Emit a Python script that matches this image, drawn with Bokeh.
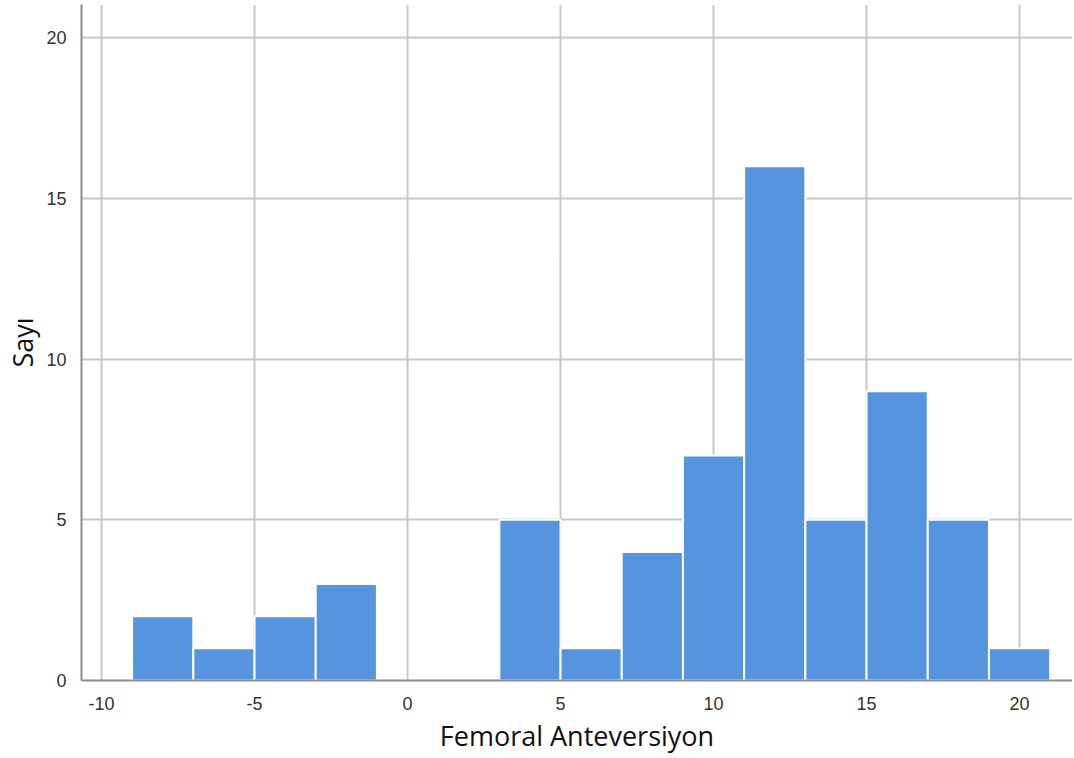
from bokeh.plotting import figure
from bokeh.embed import file_html
from bokeh.resources import INLINE
from bokeh.models import Range1d, FixedTicker

# Histogram data: bin edges (width 2) and counts
bin_edges = [-9, -7, -5, -3, -1, 1, 3, 5, 7, 9, 11, 13, 15, 17, 19, 21]
counts = [2, 1, 2, 3, 0, 0, 5, 1, 4, 7, 16, 5, 9, 5, 1]
x_ticks = [-10, -5, 0, 5, 10, 15, 20]
y_ticks = [0, 5, 10, 15, 20]
x_title = "Femoral Anteversiyon"
y_title = "Sayı"

p = figure(width=1072, height=756, output_backend="svg", toolbar_location=None,
           x_range=Range1d(-10.654, 21.73), y_range=Range1d(0, 21.03),
           min_border_left=81, min_border_right=0, min_border_top=4, min_border_bottom=76)
p.outline_line_color = None
p.background_fill_color = "white"

p.quad(left=bin_edges[:-1], right=bin_edges[1:], bottom=0, top=counts,
       fill_color="#5595e0", line_color="white", line_width=2)

for ax in (p.xaxis[0], p.yaxis[0]):
    ax.major_tick_line_color = None
    ax.minor_tick_line_color = None
    ax.axis_line_color = "#8c8c8c"
    ax.axis_line_width = 2
    ax.major_label_text_font = "Liberation Sans"
    ax.major_label_text_font_size = "18px"
    ax.major_label_text_color = "#333333"
    ax.axis_label_text_font = "Open Sans"
    ax.axis_label_text_font_size = "27px"
    ax.axis_label_text_font_style = "normal"
    ax.axis_label_text_color = "#111111"

p.xaxis[0].ticker = FixedTicker(ticks=x_ticks)
p.yaxis[0].ticker = FixedTicker(ticks=y_ticks)
p.xaxis[0].major_label_overrides = {t: str(t) for t in x_ticks}
p.xaxis.axis_label = x_title
p.yaxis.axis_label = y_title
p.xaxis.major_label_standoff = 10
p.yaxis.major_label_standoff = 9
p.xaxis.axis_label_standoff = 4
p.yaxis.axis_label_standoff = 2

p.grid.grid_line_color = "#c8c8c8"
p.grid.grid_line_width = 2
p.xgrid.ticker = FixedTicker(ticks=x_ticks)
p.ygrid.ticker = FixedTicker(ticks=y_ticks)

open("out.html", "w").write(file_html(p, INLINE))
